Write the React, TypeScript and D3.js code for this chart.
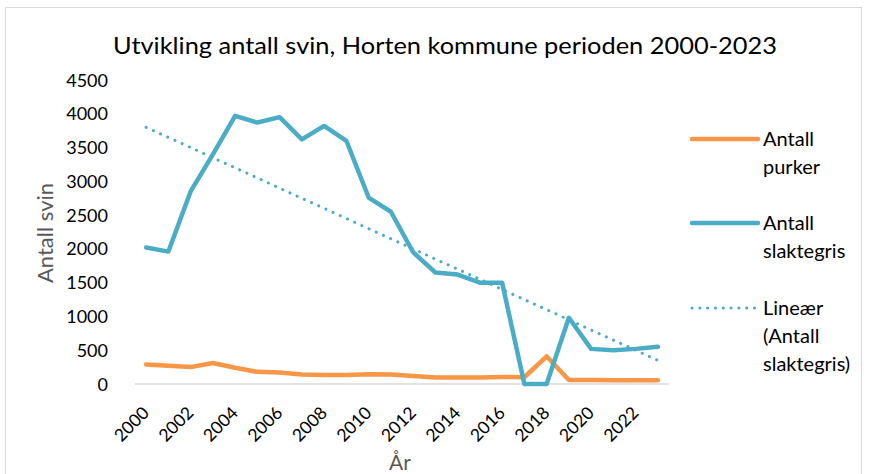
import { useEffect, useRef } from 'react';
import * as d3 from 'd3';

const years = [
  2000, 2001, 2002, 2003, 2004, 2005, 2006, 2007, 2008, 2009, 2010, 2011,
  2012, 2013, 2014, 2015, 2016, 2017, 2018, 2019, 2020, 2021, 2022, 2023,
];
const purker = [
  290, 270, 250, 310, 240, 180, 170, 140, 135, 135, 145, 140,
  120, 95, 95, 95, 105, 100, 410, 60, 60, 55, 55, 55,
];
const slaktegris = [
  2020, 1960, 2850, 3400, 3970, 3870, 3950, 3620, 3820, 3600, 2760, 2550,
  1950, 1650, 1620, 1500, 1500, 0, 0, 980, 520, 500, 520, 550,
];
// trend line endpoints (2000 and 2023)
const trendYears = [2000, 2023];
const trendValues = [3800, 350];
const yTicks = [0, 500, 1000, 1500, 2000, 2500, 3000, 3500, 4000, 4500];
const xTickYears = [2000, 2002, 2004, 2006, 2008, 2010, 2012, 2014, 2016, 2018, 2020, 2022];

const ORANGE = '#F79646';
const BLUE = '#4BACC6';
const FONT = 'Lato, "Open Sans", sans-serif';

export default function App() {
  const svgRef = useRef<SVGSVGElement | null>(null);

  useEffect(() => {
    if (!svgRef.current) return;
    const svg = d3.select(svgRef.current);
    svg.selectAll('*').remove();

    // outer frame
    svg
      .append('rect')
      .attr('x', 5.5)
      .attr('y', 7.5)
      .attr('width', 856)
      .attr('height', 480)
      .attr('fill', '#fff')
      .attr('stroke', '#d9d9d9');

    const x = d3
      .scalePoint<number>()
      .domain(years)
      .range([135, 669])
      .padding(0.5);
    const y = d3.scaleLinear().domain([0, 4500]).range([384, 80]);

    // title
    svg
      .append('text')
      .attr('x', 445)
      .attr('y', 54)
      .attr('text-anchor', 'middle')
      .attr('font-family', FONT)
      .attr('font-size', 23)
      .attr('textLength', 664)
      .attr('lengthAdjust', 'spacingAndGlyphs')
      .attr('fill', '#000')
      .text('Utvikling antall svin, Horten kommune perioden 2000-2023');

    // y tick labels
    svg
      .append('g')
      .selectAll('text')
      .data(yTicks)
      .join('text')
      .attr('x', 108)
      .attr('y', (d) => y(d) + 6.5)
      .attr('text-anchor', 'end')
      .attr('font-family', FONT)
      .attr('font-size', 18)
      .attr('fill', '#000')
      .text((d) => String(d));

    // baseline
    svg
      .append('line')
      .attr('x1', 135)
      .attr('x2', 669)
      .attr('y1', y(0))
      .attr('y2', y(0))
      .attr('stroke', '#d9d9d9')
      .attr('stroke-width', 1.5);

    // x tick labels rotated
    svg
      .append('g')
      .selectAll('text')
      .data(xTickYears)
      .join('text')
      .attr('transform', (d) => `translate(${(x(d) ?? 0) + 4},${414}) rotate(-45)`)
      .attr('text-anchor', 'end')
      .attr('font-family', FONT)
      .attr('font-size', 17.5)
      .attr('fill', '#000')
      .text((d) => String(d));

    // axis titles
    svg
      .append('text')
      .attr('transform', `translate(53,233) rotate(-90)`)
      .attr('text-anchor', 'middle')
      .attr('font-family', FONT)
      .attr('font-size', 22)
      .attr('fill', '#595959')
      .text('Antall svin');
    svg
      .append('text')
      .attr('x', 400)
      .attr('y', 470)
      .attr('text-anchor', 'middle')
      .attr('font-family', FONT)
      .attr('font-size', 21)
      .attr('fill', '#595959')
      .text('År');

    const line = d3
      .line<number>()
      .x((_, i) => x(years[i]) ?? 0)
      .y((d) => y(d));

    svg
      .append('path')
      .attr('d', line(purker))
      .attr('fill', 'none')
      .attr('stroke', ORANGE)
      .attr('stroke-width', 4.5)
      .attr('stroke-linejoin', 'round')
      .attr('stroke-linecap', 'round');

    svg
      .append('path')
      .attr('d', line(slaktegris))
      .attr('fill', 'none')
      .attr('stroke', BLUE)
      .attr('stroke-width', 4.5)
      .attr('stroke-linejoin', 'round')
      .attr('stroke-linecap', 'round');

    const trendLine = d3
      .line<number>()
      .x((_, i) => x(trendYears[i]) ?? 0)
      .y((d) => y(d));
    svg
      .append('path')
      .attr('d', trendLine(trendValues))
      .attr('fill', 'none')
      .attr('stroke', BLUE)
      .attr('stroke-width', 3)
      .attr('stroke-dasharray', '0.1 7.8')
      .attr('stroke-linecap', 'round');

    // legend
    const legend = [
      { lines: ['Antall', 'purker'], color: ORANGE, dotted: false, y: 139 },
      { lines: ['Antall', 'slaktegris'], color: BLUE, dotted: false, y: 223 },
      { lines: ['Lineær', '(Antall', 'slaktegris)'], color: BLUE, dotted: true, y: 308 },
    ];
    const lg = svg.append('g');
    legend.forEach((item) => {
      lg.append('line')
        .attr('x1', 692)
        .attr('x2', 758)
        .attr('y1', item.y)
        .attr('y2', item.y)
        .attr('stroke', item.color)
        .attr('stroke-width', item.dotted ? 3 : 4.5)
        .attr('stroke-linecap', 'round')
        .attr('stroke-dasharray', item.dotted ? '0.1 7.7' : null);
      const t = lg
        .append('text')
        .attr('font-family', FONT)
        .attr('font-size', 20)
        .attr('fill', '#000');
      item.lines.forEach((s, i) => {
        t.append('tspan')
          .attr('x', 763)
          .attr('y', item.y + 7 + i * 28)
          .text(s);
      });
    });
  }, []);

  return (
    <svg
      ref={svgRef}
      width={869}
      height={474}
      style={{ position: 'absolute', left: 0, top: 0, background: '#fff' }}
    />
  );
}
